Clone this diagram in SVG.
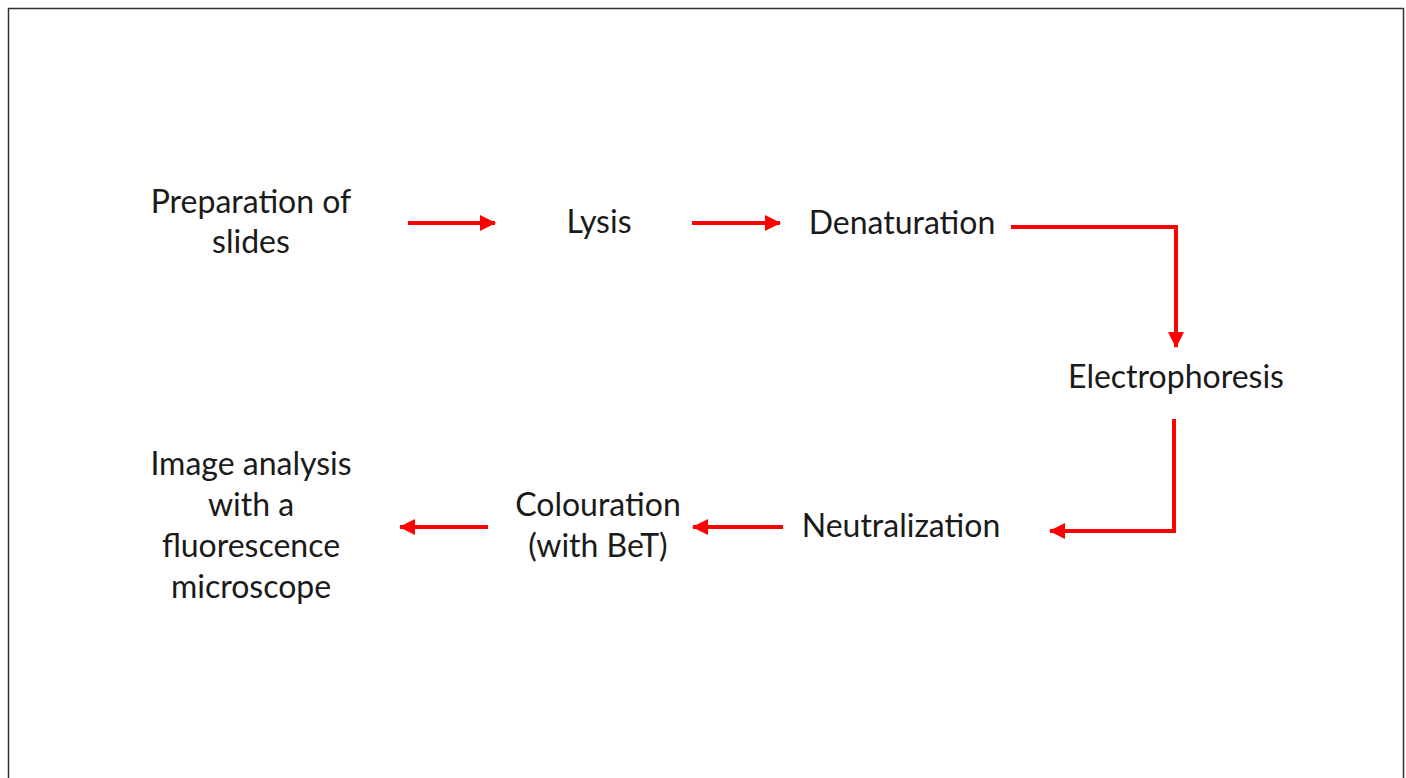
<svg xmlns="http://www.w3.org/2000/svg" width="1406" height="778" viewBox="0 0 1406 778">
<style>
.t{font-family:Lato,"Open Sans",sans-serif;font-size:32px;fill:#1a1a1a;text-anchor:middle}
.c{fill:none;stroke:#ff0000;stroke-width:4}
</style>
<defs>
<marker id="ah" markerWidth="16" markerHeight="16" refX="15" refY="8" orient="auto" markerUnits="userSpaceOnUse">
<path d="M0,0 L16,8 L0,16 Z" fill="#ff0000"/>
</marker>
</defs>
<rect x="0" y="0" width="1406" height="778" fill="#ffffff"/>
<path d="M8.5,790 V8.5 H1403.5 V790" fill="none" stroke="#333" stroke-width="1.5"/>
<g id="connectors">
<path class="c" d="M408,223 H495" marker-end="url(#ah)"/>
<path class="c" d="M692,223 H780" marker-end="url(#ah)"/>
<path class="c" d="M1011,227 H1176 V347" marker-end="url(#ah)"/>
<path class="c" d="M1174,419 V531 H1050" marker-end="url(#ah)"/>
<path class="c" d="M783,527 H693" marker-end="url(#ah)"/>
<path class="c" d="M488,527 H400" marker-end="url(#ah)"/>
</g>
<g id="n1"><text class="t" x="251" y="213">Preparation of</text><text class="t" x="251" y="253">slides</text></g>
<g id="n2"><text class="t" x="599" y="233">Lysis</text></g>
<g id="n3"><text class="t" x="902" y="234">Denaturation</text></g>
<g id="n4"><text class="t" x="1176" y="388">Electrophoresis</text></g>
<g id="n5"><text class="t" x="901" y="537">Neutralization</text></g>
<g id="n6"><text class="t" x="598" y="516">Colouration</text><text class="t" x="598" y="557">(with BeT)</text></g>
<g id="n7"><text class="t" x="251" y="475">Image analysis</text><text class="t" x="251" y="516">with a</text><text class="t" x="251" y="557">fluorescence</text><text class="t" x="251" y="598">microscope</text></g>
</svg>
